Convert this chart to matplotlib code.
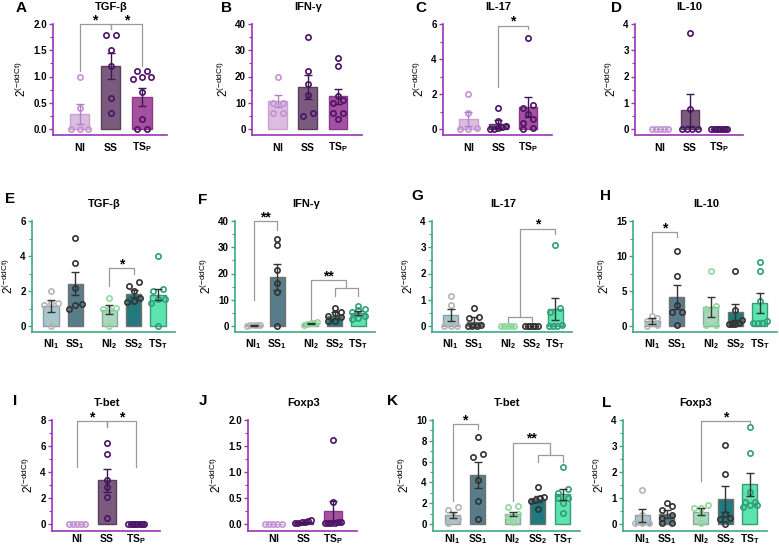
import numpy as np
import matplotlib
matplotlib.use("Agg")
import matplotlib.pyplot as plt
from matplotlib.ticker import MultipleLocator, FormatStrFormatter

plt.rcParams['font.family'] = ['Liberation Sans', 'DejaVu Sans']
plt.rcParams['mathtext.fontset'] = 'custom'
plt.rcParams['mathtext.rm'] = 'Liberation Sans'
plt.rcParams['mathtext.bf'] = 'Liberation Sans:bold'
plt.rcParams['mathtext.it'] = 'Liberation Sans:italic'

W, H = 779, 546

# ── data ─────────────────────────────────────────────────────────────────────
labels3 = [r"$\mathbf{NI}$", r"$\mathbf{SS}$", r"$\mathbf{TS_P}$"]
labels5 = [r"$\mathbf{NI_1}$", r"$\mathbf{SS_1}$", r"$\mathbf{NI_2}$",
           r"$\mathbf{SS_2}$", r"$\mathbf{TS_T}$"]

# A  TGF-b (peripheral)
a_pts = [[1.0, 0.4, 0, 0, 0], [1.8, 1.8, 1.5, 1.2, 0.6, 0.3],
         [1.1, 1.1, 1.0, 1.0, 0.95, 0.7, 0.2, 0, 0]]
a_mean = [0.28, 1.20, 0.61]
a_sem = [0.19, 0.25, 0.17]
# B  IFN-g
b_pts = [[20, 10, 10, 6, 6], [35, 22, 17, 13, 6, 5],
         [27, 24, 12.5, 11, 10, 6, 6, 4]]
b_mean = [10.6, 16.1, 12.4]
b_sem = [2.4, 4.5, 3.0]
# C  IL-17
c_pts = [[2.0, 0.9, 0.05, 0, 0], [1.2, 0.45, 0.2, 0.1, 0.05, 0, 0],
         [5.2, 1.35, 1.2, 0.85, 0.6, 0.35, 0.05, 0]]
c_mean = [0.58, 0.29, 1.25]
c_sem = [0.4, 0.23, 0.58]
# D  IL-10
d_pts = [[0, 0, 0, 0, 0], [3.65, 0.75, 0, 0, 0, 0], [0, 0, 0, 0, 0, 0, 0, 0]]
d_mean = [0, 0.73, 0]
d_sem = [0, 0.6, 0]
# E  TGF-b (tissue)
e_pts = [[2.0, 1.3, 1.3, 1.2, 0], [5.05, 3.6, 2.2, 1.25, 1.2, 1.0],
         [1.6, 1.05, 1.0, 1.0, 0], [2.5, 2.3, 2.0, 1.6, 1.45, 1.4],
         [4.0, 2.1, 2.0, 1.55, 1.55, 1.3, 0]]
e_mean = [1.13, 2.42, 0.94, 1.85, 1.8]
e_sem = [0.33, 0.67, 0.24, 0.21, 0.34]
# F  IFN-g
f_pts = [[0.3, 0.2, 0.2, 0.2, 0.1], [33, 31, 21.5, 16.5, 13, 0],
         [1.5, 1.2, 1.0, 0.8, 0.5], [7, 5.5, 5, 4, 3.5, 2, 2],
         [7.5, 6.5, 6, 5.5, 4, 3, 2.5]]
f_mean = [0.2, 18.8, 1.0, 3.9, 5.0]
f_sem = [0.05, 5.0, 0.2, 1.3, 0.7]
# G  IL-17
g_pts = [[1.15, 0.8, 0, 0, 0], [0.7, 0.35, 0.3, 0.05, 0, 0, 0],
         [0, 0, 0, 0, 0], [0, 0, 0, 0, 0, 0],
         [3.1, 0.7, 0.55, 0.05, 0, 0, 0]]
g_mean = [0.41, 0.15, 0, 0, 0.63]
g_sem = [0.23, 0.18, 0, 0, 0.42]
# H  IL-10
h_pts = [[1.5, 1.2, 0.7, 0.2, 0], [10.7, 7.1, 3.0, 2.0, 2.0, 0.2],
         [7.9, 2.8, 2.5, 0.1, 0.1], [7.8, 2.3, 0.9, 0.5, 0.3, 0.3, 0.3],
         [9.2, 7.8, 3.6, 0.7, 0.5, 0.4, 0.4]]
h_mean = [0.72, 4.2, 2.75, 2.0, 3.3]
h_sem = [0.4, 1.7, 1.4, 1.2, 1.45]
# I  T-bet (peripheral)
i_pts = [[0, 0, 0, 0, 0], [6.2, 5.35, 3.4, 2.85, 2.05, 0.45],
         [0, 0, 0, 0, 0, 0, 0, 0]]
i_mean = [0, 3.38, 0]
i_sem = [0, 0.88, 0]
# J  Foxp3 (peripheral)
j_pts = [[0, 0, 0, 0, 0], [0.07, 0.05, 0.04, 0.03, 0.02, 0.01],
         [1.62, 0.42, 0.04, 0.03, 0.02, 0.02, 0.02, 0.02]]
j_mean = [0, 0.035, 0.25]
j_sem = [0, 0.01, 0.2]
# K  T-bet (tissue)
k_pts = [[1.6, 1.3, 0.8, 0.5, 0.1], [8.4, 6.7, 6.4, 4.2, 2.2, 0.5],
         [1.7, 1.6, 1.0, 0.7, 0.2], [3.6, 2.6, 2.5, 2.3, 2.2, 1.4],
         [5.5, 3.4, 3.0, 2.5, 2.5, 2.0, 1.1]]
k_mean = [0.9, 4.75, 1.0, 2.4, 2.85]
k_sem = [0.3, 1.25, 0.2, 0.3, 0.5]
# L  Foxp3 (tissue)
l_pts = [[1.32, 0.35, 0.05, 0.05, 0.05], [0.8, 0.7, 0.55, 0.35, 0.25, 0.05, 0.05],
         [0.75, 0.6, 0.6, 0.4, 0.05], [3.05, 1.92, 0.4, 0.25, 0.2, 0.0],
         [3.72, 2.75, 1.22, 0.85, 0.85, 0.75, 0.75, 0.65]]
l_mean = [0.33, 0.38, 0.48, 0.97, 1.53]
l_sem = [0.25, 0.16, 0.12, 0.5, 0.45]

# significance brackets: (group_from, group_to, height, drop_left, drop_right, label)
a_sig = [(0, 1, 2.0, 1.1, 1.9, "*"), (1, 2, 2.0, 1.9, 1.2, "*")]
c_sig = [(1, 2, 5.9, 2.4, 5.7, "*")]
e_sig = [(2, 3, 3.3, 2.3, 3.0, "*")]
f_sig = [(0, 1, 40, 10, 36.5, "**"), (3, 4, 14.3, 11.5, 11.5, ""),
         (2, 3.5, 17.5, 2.8, 14.3, "**")]
g_sig = [(2, 3, 0.35, 0.12, 0.12, ""), (2.5, 4, 3.7, 0.35, 3.5, "*")]
h_sig = [(0, 1, 13.4, 2.0, 12.7, "*")]
i_sig = [(0, 1, 7.9, 4.4, 7.5, "*"), (1, 2, 7.9, 7.5, 4.4, "*")]
k_sig = [(0, 1, 9.6, 2.2, 9.1, "*"), (3, 4, 6.65, 6.0, 6.0, ""),
         (2, 3.5, 7.8, 2.2, 6.65, "**")]
l_sig = [(2, 4, 3.95, 1.65, 3.85, "*")]

# ── styles ───────────────────────────────────────────────────────────────────
PURPLE = dict(axis="#9a34b8",
              fill=["#dbbedd", "#7b5b7d", "#a6519f"],
              edge=["#c9a3d3", "#5b3d5f", "#8a3a8a"],
              dot=["#c293d4", "#4b1366", "#4b1366"],
              err=["#b27fc6", "#3e1650", "#3e1650"])
GREEN = dict(axis="#3fa886",
             fill=["#a9c6cf", "#567d89", "#a9d8bf", "#21797d", "#5de3ad"],
             edge=["#8a9ea4", "#707070", "#8aa898", "#707070", "#3a9a78"],
             dot=["#b5b5b5", "#333333", "#8fd99b", "#333333", "#2f9f78"],
             err=["#333333"] * 5)

POS3 = [0, 1, 2]
POS5 = [0, 1, 2.4, 3.4, 4.4]
BAR_W = 0.62

# rows: y px of top tick, zero, x-axis line, x label pad
ROWS = [(24, 129, 135, 4), (221, 326, 332, 4), (420, 524, 531, 1)]

fig = plt.figure(figsize=(W / 100, H / 100), dpi=100)


def swarm(ax, vals, x0, dmax, span):
    vals = np.asarray(vals, float)
    lo, hi = ax.get_ylim()
    hpx = ax.get_position().height * H
    ypx = (vals - lo) / (hi - lo) * hpx
    order = np.argsort(ypx)
    xs = np.zeros(len(vals))
    clusters, cur = [], [order[0]]
    for i in order[1:]:
        if ypx[i] - ypx[cur[0]] < 4.5:
            cur.append(i)
        else:
            clusters.append(cur)
            cur = [i]
    clusters.append(cur)
    for cl in clusters:
        n = len(cl)
        if n == 1:
            continue
        step = min(dmax, span / (n - 1))
        for j, idx in enumerate(cl):
            xs[idx] = (j - (n - 1) / 2) * step
    return x0 + xs, vals


def panel(letter, title, pts, means, sems, sig, pal, row, left, right,
          ymax, major, minor, fmt, letter_xy):
    top, zero, base, xpad = ROWS[row]
    ax = fig.add_axes([left / W, 1 - base / H, (right - left) / W, (base - top) / H])
    frac = (base - zero) / (zero - top)
    ax.set_ylim(-frac * ymax, ymax)
    n = len(means)
    pos = POS3 if n == 3 else POS5
    ax.set_xlim((-0.85, 2.8) if n == 3 else (-0.78, 5.1))
    unit_px = (right - left) / np.diff(ax.get_xlim())[0]

    ax.bar(pos, means, width=BAR_W, color=pal["fill"], edgecolor=pal["edge"],
           linewidth=1.0, zorder=1)
    for k in range(n):
        xs, ys = swarm(ax, pts[k], pos[k], 10 / unit_px, 0.88 * BAR_W)
        ax.plot(xs, ys, "o", ms=3.8, mfc="none", mec=pal["dot"][k], mew=1.2,
                zorder=3, clip_on=False)
        if sems[k] > 0:
            ax.errorbar(pos[k], means[k], yerr=sems[k], fmt="none",
                        ecolor=pal["err"][k], elinewidth=1.0, capsize=3.2,
                        capthick=1.0, zorder=4)

    for (g1, g2, y, d1, d2, lab) in sig:
        x1 = np.interp(g1, range(n), pos)
        x2 = np.interp(g2, range(n), pos)
        ax.plot([x1, x1, x2, x2], [d1, y, y, d2], color="#9a9a9a", lw=0.9,
                zorder=2, clip_on=False)
        if lab:
            ax.annotate(lab, xy=((x1 + x2) / 2, y), xytext=(0, -2.2),
                        textcoords="offset points", ha="center", va="bottom",
                        fontsize=10, fontweight="bold", annotation_clip=False)

    for s in ["top", "right"]:
        ax.spines[s].set_visible(False)
    for s in ["left", "bottom"]:
        ax.spines[s].set_color(pal["axis"])
        ax.spines[s].set_linewidth(1.2)
    ax.yaxis.set_major_locator(MultipleLocator(major))
    ax.yaxis.set_minor_locator(MultipleLocator(minor))
    ax.yaxis.set_major_formatter(FormatStrFormatter(fmt))
    ax.set_yticks([t for t in ax.get_yticks() if 0 <= t <= ymax + 1e-9])
    ax.set_ylim(-frac * ymax, ymax)
    ax.tick_params(axis="y", which="major", length=3, width=1.0, color=pal["axis"],
                   labelsize=7, pad=1.5)
    ax.tick_params(axis="y", which="minor", length=2, width=0.8, color=pal["axis"])
    for t in ax.get_yticklabels():
        t.set_fontweight("bold")
    ax.set_xticks(pos)
    ax.set_xticklabels(labels3 if n == 3 else labels5)
    ax.tick_params(axis="x", length=0, labelsize=7.5, pad=xpad)
    ax.set_ylabel(r"$\mathregular{2^{(-ddCt)}}$", fontsize=8.5, labelpad=3)

    ax.annotate(title, xy=(np.mean([pos[0], pos[-1]]), 1), xycoords=("data", "axes fraction"),
                xytext=(0, 12.3), textcoords="offset points", ha="center", va="center",
                fontsize=8, fontweight="bold", annotation_clip=False)
    fig.text(letter_xy[0] / W, 1 - letter_xy[1] / H, letter, fontsize=11,
             fontweight="bold", ha="left", va="center")
    return ax


panel("A", "TGF-β", a_pts, a_mean, a_sem, a_sig, PURPLE, 0, 53, 167, 2.0, 0.5, 0.25, "%.1f", (16, 8))
panel("B", "IFN-γ", b_pts, b_mean, b_sem, [], PURPLE, 0, 252, 362, 40, 10, 5, "%d", (221, 8))
panel("C", "IL-17", c_pts, c_mean, c_sem, c_sig, PURPLE, 0, 443, 552, 6, 2, 1, "%d", (415, 8))
panel("D", "IL-10", d_pts, d_mean, d_sem, [], PURPLE, 0, 635, 743, 4, 1, 0.5, "%d", (611, 8))
panel("E", "TGF-β", e_pts, e_mean, e_sem, e_sig, GREEN, 1, 32, 175, 6, 2, 1, "%d", (5, 199))
panel("F", "IFN-γ", f_pts, f_mean, f_sem, f_sig, GREEN, 1, 235, 375, 40, 10, 5, "%d", (198, 200))
panel("G", "IL-17", g_pts, g_mean, g_sem, g_sig, GREEN, 1, 432, 572, 4, 1, 0.5, "%d", (411, 196))
panel("H", "IL-10", h_pts, h_mean, h_sem, h_sig, GREEN, 1, 633, 777, 15, 5, 2.5, "%d", (600, 196))
panel("I", "T-bet", i_pts, i_mean, i_sem, i_sig, PURPLE, 2, 52, 160, 8, 2, 1, "%d", (13, 401))
panel("J", "Foxp3", j_pts, j_mean, j_sem, [], PURPLE, 2, 248, 357, 2.0, 0.5, 0.25, "%.1f", (199, 401))
panel("K", "T-bet", k_pts, k_mean, k_sem, k_sig, GREEN, 2, 433, 580, 10, 2, 1, "%d", (387, 401))
panel("L", "Foxp3", l_pts, l_mean, l_sem, l_sig, GREEN, 2, 623, 767, 4, 1, 0.5, "%d", (602, 403))

fig.savefig("out.png", dpi=100)
